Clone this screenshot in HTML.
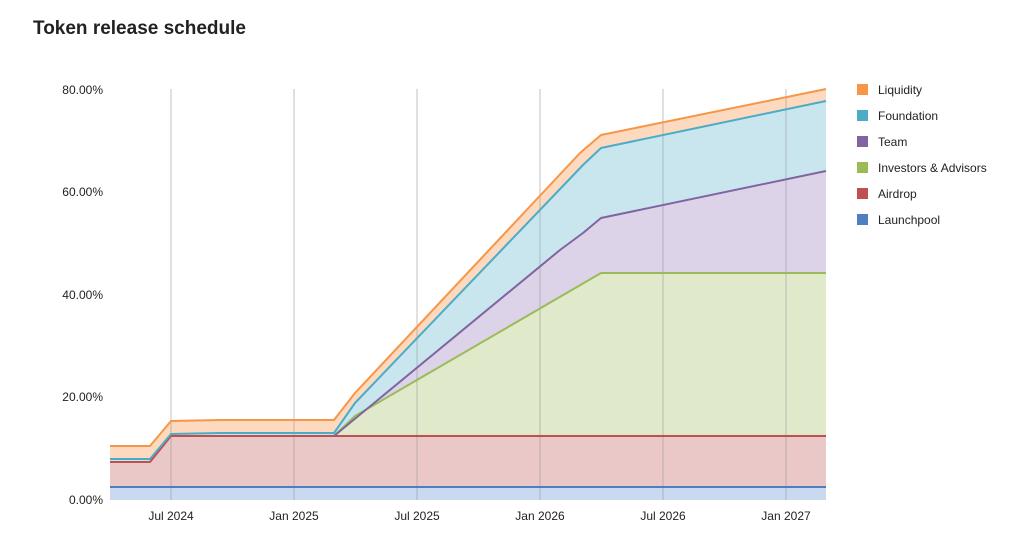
<!DOCTYPE html>
<html><head><meta charset="utf-8"><style>
body{margin:0;background:#fff;width:1022px;height:547px;overflow:hidden;font-family:"Liberation Sans",Arial,sans-serif}
</style></head><body>
<svg width="1022" height="547" xmlns="http://www.w3.org/2000/svg" font-family="Liberation Sans, Arial, sans-serif">
<text x="33" y="34" font-size="19" font-weight="bold" fill="#222">Token release schedule</text>
<!-- areas -->
<polygon fill="#fcd9bf" points="110,446 150,446 171,421 220,420 334,420 355,393 580,153 601,135 826,89 826,101 601,148 583,165 355,403 334,433 220,433 171,434 150,459 110,459"/>
<polygon fill="#c9e6ef" points="110,459 150,459 171,434 220,433 334,433 355,403 583,165 601,148 826,101 826,171 601,218 583,233 560,250 334,436 171,436 150,462 110,462"/>
<polygon fill="#ddd3e8" points="334,436 560,250 583,233 601,218 826,171 826,273 601,273 355,416"/>
<polygon fill="#e0eacb" points="334,436 355,416 601,273 826,273 826,436"/>
<polygon fill="#ebc8c8" points="110,462 150,462 171,436 826,436 826,487 110,487"/>
<polygon fill="#c9d9ef" points="110,487 826,487 826,500 110,500"/>
<g stroke="#999" stroke-opacity="0.6" stroke-width="1">
<line x1="171" y1="89" x2="171" y2="500"/><line x1="294" y1="89" x2="294" y2="500"/>
<line x1="417" y1="89" x2="417" y2="500"/><line x1="540" y1="89" x2="540" y2="500"/>
<line x1="663" y1="89" x2="663" y2="500"/><line x1="786" y1="89" x2="786" y2="500"/>
</g>
<g fill="none" stroke-width="2" stroke-linejoin="round">
<polyline stroke="#4f7fc0" points="110,487 826,487"/>
<polyline stroke="#c0504d" points="110,462 150,462 171,436 826,436"/>
<polyline stroke="#9bbb59" points="334,436 355,416 601,273 826,273"/>
<polyline stroke="#8064a2" points="334,436 560,250 583,233 601,218 826,171"/>
<polyline stroke="#4bacc6" points="110,459 150,459 171,434 220,433 334,433 355,403 583,165 601,148 826,101"/>
<polyline stroke="#f79646" points="110,446 150,446 171,421 220,420 334,420 355,393 580,153 601,135 826,89"/>
</g>
<g font-size="12" fill="#222" text-anchor="end">
<text x="103" y="94">80.00%</text><text x="103" y="196">60.00%</text>
<text x="103" y="299">40.00%</text><text x="103" y="401">20.00%</text>
<text x="103" y="504">0.00%</text>
</g>
<g font-size="12" fill="#222" text-anchor="middle">
<text x="171" y="520">Jul 2024</text><text x="294" y="520">Jan 2025</text>
<text x="417" y="520">Jul 2025</text><text x="540" y="520">Jan 2026</text>
<text x="663" y="520">Jul 2026</text><text x="786" y="520">Jan 2027</text>
</g>
<g font-size="12" fill="#222">
<rect x="857" y="84" width="11" height="11" fill="#f79646"/><text x="878" y="94">Liquidity</text>
<rect x="857" y="110" width="11" height="11" fill="#4bacc6"/><text x="878" y="120">Foundation</text>
<rect x="857" y="136" width="11" height="11" fill="#8064a2"/><text x="878" y="146">Team</text>
<rect x="857" y="162" width="11" height="11" fill="#9bbb59"/><text x="878" y="172">Investors &amp; Advisors</text>
<rect x="857" y="188" width="11" height="11" fill="#c0504d"/><text x="878" y="198">Airdrop</text>
<rect x="857" y="214" width="11" height="11" fill="#4f7fc0"/><text x="878" y="224">Launchpool</text>
</g>
</svg>
</body></html>
